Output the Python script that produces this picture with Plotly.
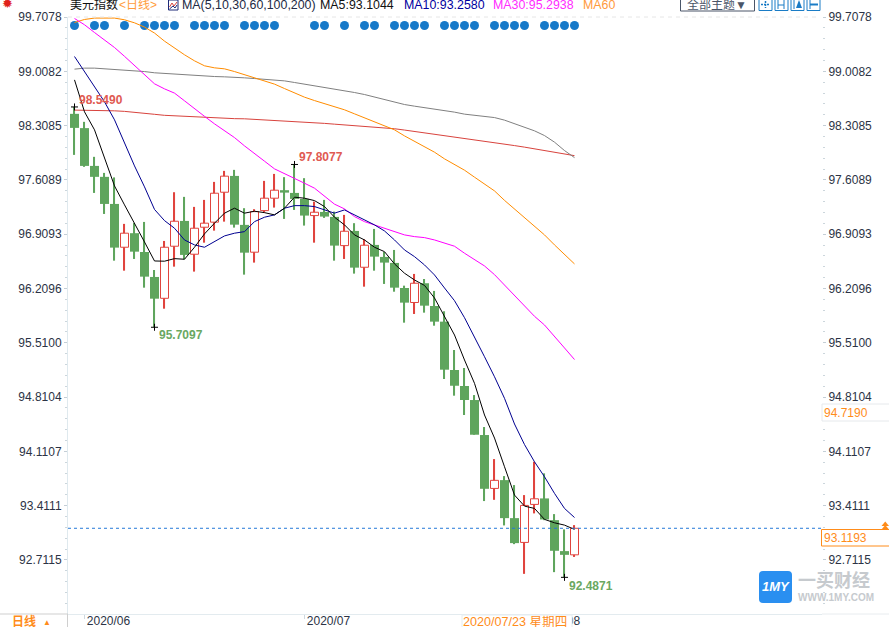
import plotly.graph_objects as go

# ---- data (one entry per trading day) ----
opens = [98.460,98.276,97.789,97.648,97.299,96.741,96.922,96.680,96.358,96.083,96.754,97.080,96.651,96.999,97.064,97.450,97.660,
         97.029,96.677,97.213,97.373,97.476,97.441,97.364,97.149,97.196,97.132,96.762,96.951,96.483,96.771,96.616,96.539,96.216,
         96.029,96.277,95.984,95.782,95.159,94.953,94.772,94.321,93.633,93.740,93.250,92.937,93.427,93.504,93.224,92.825,92.777]
closes = [98.279,97.789,97.648,97.299,96.736,96.922,96.684,96.362,96.078,96.741,97.076,96.642,96.986,97.051,97.437,97.657,97.032,
          96.671,97.200,97.373,97.476,97.445,97.364,97.149,97.192,97.136,96.762,96.947,96.478,96.767,96.620,96.543,96.220,96.027,
          96.277,95.988,95.782,95.163,94.956,94.772,94.325,93.628,93.737,93.250,92.928,93.414,93.499,93.233,92.829,92.777,93.1193]
highs = [98.549,98.357,97.906,97.699,97.641,97.042,97.054,97.067,96.448,96.822,97.450,97.390,97.261,97.351,97.583,97.725,97.738,
         97.244,97.231,97.596,97.686,97.644,97.8077,97.631,97.329,97.351,97.200,97.158,97.051,96.844,96.977,96.680,96.706,96.246,
         96.397,96.332,96.178,95.916,95.417,95.185,94.836,94.424,94.011,93.792,93.676,93.547,93.977,93.827,93.302,93.105,93.16]
lows = [97.931,97.777,97.441,97.170,96.568,96.439,96.590,96.220,95.7097,95.949,96.491,96.586,96.427,96.800,96.955,97.071,96.994,
        96.388,96.543,97.187,97.252,97.106,97.222,97.020,96.800,97.119,96.568,96.590,96.401,96.233,96.439,96.268,96.168,95.769,
        95.881,95.898,95.730,95.043,94.828,94.579,94.325,93.470,93.486,93.156,92.915,92.532,93.311,93.224,92.554,92.4871,92.75]

ma5 = [98.898,98.486,98.254,97.880,97.531,97.287,97.054,96.809,96.564,96.561,96.594,96.586,96.741,96.913,97.051,97.180,97.244,
       97.180,97.205,97.187,97.158,97.244,97.386,97.373,97.342,97.265,97.128,97.029,96.900,96.835,96.741,96.684,96.526,96.406,
       96.319,96.249,96.087,95.842,95.610,95.288,94.987,94.579,94.282,93.912,93.547,93.405,93.375,93.234,93.190,93.160,93.1044]
ma10 = [99.199,99.005,98.812,98.615,98.383,98.086,97.789,97.519,97.228,97.084,96.986,96.835,96.771,96.741,96.813,96.887,96.922,
        96.942,97.071,97.128,97.158,97.244,97.277,97.277,97.265,97.222,97.180,97.222,97.158,97.084,97.029,96.951,96.835,96.706,
        96.620,96.513,96.384,96.216,96.052,95.833,95.588,95.330,95.072,94.794,94.463,94.198,93.976,93.783,93.569,93.375,93.2580]
ma30 = [99.689,99.608,99.508,99.414,99.315,99.201,99.079,98.963,98.847,98.782,98.727,98.628,98.524,98.428,98.331,98.241,98.154,
        98.047,97.944,97.850,97.751,97.686,97.628,97.566,97.502,97.394,97.296,97.235,97.136,97.071,97.029,96.986,96.951,96.900,
        96.878,96.865,96.835,96.794,96.754,96.664,96.577,96.500,96.388,96.255,96.130,95.984,95.851,95.739,95.597,95.443,95.2938]
ma60 = [99.637,99.676,99.694,99.694,99.694,99.672,99.633,99.578,99.501,99.397,99.307,99.221,99.143,99.079,99.053,99.040,99.005,
        98.967,98.928,98.882,98.843,98.786,98.728,98.675,98.631,98.593,98.554,98.512,98.460,98.408,98.357,98.314,98.254,98.176,
        98.103,98.031,97.966,97.880,97.802,97.734,97.644,97.557,97.467,97.345,97.232,97.119,97.016,96.900,96.771,96.642,96.526]
ma100 = [99.036,99.049,99.049,99.040,99.036,99.027,99.018,99.005,98.989,98.980,98.972,98.963,98.954,98.946,98.941,98.937,98.933,
         98.924,98.915,98.907,98.898,98.885,98.864,98.843,98.825,98.804,98.782,98.760,98.735,98.709,98.675,98.644,98.611,98.580,
         98.559,98.541,98.521,98.503,98.482,98.456,98.443,98.430,98.412,98.379,98.335,98.288,98.241,98.180,98.095,97.987,97.896]
ma200 = [98.508,98.508,98.505,98.503,98.499,98.492,98.482,98.469,98.454,98.441,98.434,98.428,98.421,98.415,98.411,98.405,98.398,
         98.396,98.389,98.383,98.379,98.372,98.365,98.357,98.348,98.337,98.327,98.318,98.309,98.299,98.288,98.279,98.268,98.251,
         98.233,98.216,98.200,98.181,98.165,98.148,98.130,98.113,98.095,98.073,98.051,98.031,98.009,97.985,97.964,97.942,97.921]

signal_days = [0,2,3,5,7,8,9,10,12,13,14,15,17,18,19,20,24,25,27,29,30,32,33,34,35,37,38,39,40,42,43,44,45,47,48,49,50]
signal_level = 99.599

price_ticks = [99.7078,99.0082,98.3085,97.6089,96.9093,96.2096,95.5100,94.8104,94.1107,93.4111,92.7115]
price_labels = ["99.7078","99.0082","98.3085","97.6089","96.9093","96.2096","95.5100","94.8104","94.1107","93.4111","92.7115"]
month_days = [1,23,46]
month_labels = ["2020/06","2020/07","2020/08"]
extreme_days = [0,22,8,49]
extreme_values = [98.5490,97.8077,95.7097,92.4871]
extreme_labels = ["98.5490","97.8077","95.7097","92.4871"]
extreme_label_levels = [98.64,97.906,95.610,92.374]
last_price = 93.1193
ref_price = 94.7190

# ---- styles ----
GREEN = "#5fa55d"; RED = "#e0443e"; INK = "#2c3345"; SANS = "Liberation Sans, Noto Sans CJK SC"
W, H = 889, 627
L, R, T, B = 68, 822, 17, 614
def px(x): return (x - L) / (R - L)
def py(y): return (B - y) / (B - T)

days = list(range(len(opens)))
up = [i for i in days if closes[i] >= opens[i]]
dn = [i for i in days if closes[i] < opens[i]]

fig = go.Figure()
# wicks
fig.add_bar(x=days, y=[h - l for h, l in zip(highs, lows)], base=lows, width=0.11,
            marker=dict(color=[RED if i in up else GREEN for i in days], line_width=0))
# falling bodies
fig.add_bar(x=dn, y=[opens[i] - closes[i] for i in dn], base=[closes[i] for i in dn], width=0.9,
            marker=dict(color=GREEN, line_width=0))
# rising bodies
fig.add_bar(x=up, y=[closes[i] - opens[i] for i in up], base=[opens[i] for i in up], width=0.8,
            marker=dict(color="white", line=dict(color=RED, width=1)))
# signal dots
fig.add_scatter(x=signal_days, y=[signal_level] * len(signal_days), mode="markers",
                marker=dict(size=9, color="#1679c9"))
for vals, col in [(ma200, "#d8433d"), (ma100, "#808080"), (ma60, "#ff8c00"),
                  (ma30, "#ff00ff"), (ma10, "#000090"), (ma5, "#000000")]:
    fig.add_scatter(x=days, y=vals, mode="lines", line=dict(color=col, width=1))
# high / low crosses
fig.add_scatter(x=extreme_days, y=extreme_values, mode="markers",
                marker=dict(symbol="cross-thin", size=5, line=dict(color="black", width=1)))
# last price line, on the right axis
fig.add_scatter(x=[-0.65, 74.75], y=[last_price, last_price], mode="lines", yaxis="y2",
                line=dict(color="#2478d8", width=1, dash="3px,3px"))

yrange = [92.0146, 99.7080]
yax = dict(range=yrange, tickmode="array", tickvals=price_ticks, ticktext=price_labels,
           tickfont=dict(family=SANS, size=12, color=INK), ticks="outside", ticklen=3,
           tickcolor="#c4ced6", showgrid=False, zeroline=False,
           minor=dict(tick0=92.7115, dtick=0.13992, ticks="outside", ticklen=2, tickcolor="#ccd6dc", showgrid=False))
fig.update_layout(
    width=W, height=H, margin=dict(l=L, r=W - R, t=T, b=H - B, pad=0, autoexpand=False), autosize=False,
    paper_bgcolor="white", plot_bgcolor="white", showlegend=False, barmode="overlay", hovermode=False,
    xaxis=dict(range=[-0.65, 74.75], tickmode="array", tickvals=month_days, ticktext=month_labels,
               tickfont=dict(family=SANS, size=12, color=INK), ticks="outside", ticklen=4, tickcolor="#cfd8de",
               ticklabelshift=24, ticklabelstandoff=-8, showline=True, linecolor="#e3ebef", showgrid=False, zeroline=False),
    yaxis=dict(**yax, showline=True, linecolor="#dfe9ee", side="left"),
    yaxis2=dict(**yax, overlaying="y", side="right", anchor="x", showline=False),
)

shapes = []
def rect(x0, y0, x1, y1, line=None, fill=None, lw=1):
    shapes.append(dict(type="rect", xref="paper", yref="paper", x0=px(x0), x1=px(x1), y0=py(y1), y1=py(y0),
                       line=dict(color=line or "rgba(0,0,0,0)", width=lw if line else 0), fillcolor=fill or "rgba(0,0,0,0)", layer="above"))
def seg(x0, y0, x1, y1, color, lw=1, dash=None):
    shapes.append(dict(type="line", xref="paper", yref="paper", x0=px(x0), x1=px(x1), y0=py(y0), y1=py(y1),
                       line=dict(color=color, width=lw, dash=dash or "solid"), layer="above"))
def tri(x0, x1, y_top, y_bot, color):
    pts = [(x0, y_bot), ((x0 + x1) / 2, y_top), (x1, y_bot)]
    path = "M" + " L".join(f"{px(a):.5f},{py(b):.5f}" for a, b in pts) + " Z"
    shapes.append(dict(type="path", xref="paper", yref="paper", path=path, fillcolor=color, line_width=0, layer="above"))

seg(68, 17, 820, 17, "#e6e6e6", 1, "4px,4px")
seg(0, 614, 68, 614, "#cfcfcf"); seg(67.5, 614, 67.5, 627, "#cfcfcf")
seg(822, 614, 889, 614, "#e8ecef")
# date box
rect(462, 615, 572, 628, line="#e6edf0", fill="white")
# price boxes
rect(822, 404, 890, 421, line="#e6e9ec", fill="white")
rect(821.5, 529.5, 890, 546, line="#ff8c1a", fill="white")
tri(881.5, 889, 521.5, 526, "#ff8c1a"); tri(881.5, 889, 525, 529.5, "#ff8c1a")
# header controls
rect(680.5, -3, 754.5, 11, line="#4a5568", fill="white")
for x0 in (759, 775, 791, 807):
    rect(x0, -3, x0 + 13, 10.5, line="#1a7cc6", fill="white")
seg(765.5, 1, 765.5, 8, "#1a7cc6", 1.5, "2px,1px"); seg(761, 4.5, 770, 4.5, "#1a7cc6", 1.5, "2px,1px")
seg(778, 0, 778, 9, "#1a7cc6"); seg(784, 0, 784, 9, "#1a7cc6"); seg(778, 5, 784, 5, "#1a7cc6")
seg(794, 0, 794, 9, "#1a7cc6"); tri(796, 802, 0, 8, "#1a7cc6")
seg(810, 0, 810, 9, "#1a7cc6"); seg(810, 4.5, 818, 4.5, "#1a7cc6", 2)
# watermark badge with rounded corners
bx0, bx1, by0, by1, rad = 759, 792, 571, 603, 4
badge = (f"M{px(bx0+rad):.5f},{py(by0):.5f} L{px(bx1-rad):.5f},{py(by0):.5f} Q{px(bx1):.5f},{py(by0):.5f} {px(bx1):.5f},{py(by0+rad):.5f} "
         f"L{px(bx1):.5f},{py(by1-rad):.5f} Q{px(bx1):.5f},{py(by1):.5f} {px(bx1-rad):.5f},{py(by1):.5f} "
         f"L{px(bx0+rad):.5f},{py(by1):.5f} Q{px(bx0):.5f},{py(by1):.5f} {px(bx0):.5f},{py(by1-rad):.5f} "
         f"L{px(bx0):.5f},{py(by0+rad):.5f} Q{px(bx0):.5f},{py(by0):.5f} {px(bx0+rad):.5f},{py(by0):.5f} Z")
shapes.append(dict(type="path", xref="paper", yref="paper", path=badge, fillcolor="#2a8ff0", line_width=0, layer="above"))
# small chart icon in the header
rect(168.5, 0, 178, 10, line="#1e2a78", fill="white")
seg(169.5, 7, 172, 3, "#d8433d"); seg(172, 3, 174, 6, "#d8433d"); seg(174, 6, 177, 2, "#d8433d")
seg(169.5, 9, 173, 6, "#1e2a78"); seg(173, 6, 175, 8, "#1e2a78"); seg(175, 8, 177, 5, "#1e2a78")
fig.update_layout(shapes=shapes)

def text(x, y, s, color, size=12, anchor="left", bold=False, family=SANS):
    fig.add_annotation(xref="paper", yref="paper", x=px(x), y=py(y), text=f"<b>{s}</b>" if bold else s, showarrow=False,
                       xanchor=anchor, yanchor="middle", font=dict(family=family, size=size, color=color), borderpad=0, borderwidth=0)

text(2, 3, "✹", "#e0201a", 13, family="DejaVu Sans")
text(70, 5, "美元指数", "#111111", 12)
text(119, 5, "&lt;日线&gt;", "#ff9c3c", 12)
text(182, 5, "MA(5,10,30,60,100,200)", "#222a44", 12.4)
text(320, 5, "MA5:93.1044", "#111111", 12.4)
text(404, 5, "MA10:93.2580", "#0000a0", 12.4)
text(493, 5, "MA30:95.2938", "#ff2cff", 12.4)
text(583, 5, "MA60", "#ff9a3c", 12.4)
text(687, 4, "全部主题▼", "#4a5568", 12)
text(12, 621, "<b>日线</b>", "#ff8c1a", 12)
text(43, 622, "▲", "#ff8c1a", 8)
text(463, 622, "2020/07/23 星期四", "#ff8c1a", 12.6)
text(824, 412.5, f"{ref_price:.4f}", "#ff8c1a", 12)
text(824, 537.5, f"{last_price:.4f}", "#ff8c1a", 12)
text(775.5, 586, "<b><i>1MY</i></b>", "white", 13, anchor="center")
text(798, 581, "<b>一买财经</b>", "#c6cace", 18)
text(798, 597, "<b>WWW.1MY.COM</b>", "#c6cace", 10)

for d, lv, s, v in zip(extreme_days, extreme_label_levels, extreme_labels, ["#e05a52", "#e05a52", "#6aa862", "#6aa862"]):
    fig.add_annotation(x=d + 0.25, y=lv, text=f"<b>{s}</b>", showarrow=False, xanchor="left", yanchor="middle",
                       font=dict(family=SANS, size=12, color=v))

fig.write_html("out.html", config={"displayModeBar": False},
               post_script="document.body.style.margin='0';document.body.style.overflow='hidden';")
